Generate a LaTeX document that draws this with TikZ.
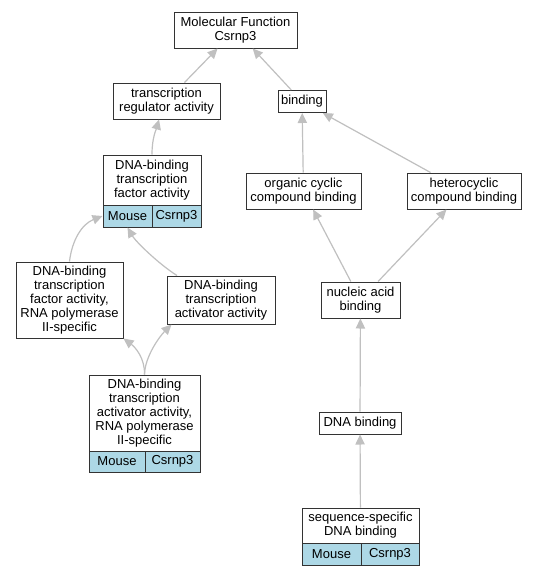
\documentclass[tikz,border=0pt]{standalone}
\usepackage{fontspec}
\setmainfont{Liberation Sans}
\usetikzlibrary{arrows.meta}

\definecolor{lightblue}{HTML}{ADD8E6}
\definecolor{edgegray}{HTML}{C0C0C0}
\definecolor{boxline}{HTML}{333333}

\tikzset{every picture/.style={line width=0.75pt}}
\tikzset{
	term/.style={draw=boxline, fill=white, line width=0.75pt, inner sep=0pt, align=center, font=\fontsize{9.75}{10.5}\selectfont},
	cell/.style={term, fill=lightblue},
	isa/.style={draw=edgegray, line width=0.9pt, -{Triangle[length=7.5pt,width=7pt]}},
}

\begin{document}
\begin{tikzpicture}[x=0.75pt,y=0.75pt,yscale=-1,xscale=1]
	%set diagram size 537 x 576
	\fill [white] (0,0) rectangle (537,576);
	\useasboundingbox (0,0) rectangle (537,576);
	
	% Term Node
	\node [term, minimum width=92.25pt, minimum height=27pt] (mf) at (235.5,30) {Molecular Function\\Csrnp3};
	% Term Node
	\node [term, minimum width=80.25pt, minimum height=27pt] (tra) at (166.5,101) {transcription\\regulator activity};
	% Term Node
	\node [term, minimum width=36pt, minimum height=16.5pt] (bind) at (302,101.5) {binding};
	% Term Node
	\node [term, minimum width=73.5pt, minimum height=37.5pt] (dbtfa) at (152,180) {DNA-binding\\transcription\\factor activity};
	\node [cell, minimum width=36.75pt, minimum height=16.5pt] (dbtfam) at (127.5,216) {Mouse};
	\node [cell, minimum width=36.75pt, minimum height=16.5pt] (dbtfag) at (176.5,216) {Csrnp3};
	% Term Node
	\node [term, minimum width=86.25pt, minimum height=27pt] (occb) at (303.5,191) {organic cyclic\\compound binding};
	% Term Node
	\node [term, minimum width=85.5pt, minimum height=27pt] (hcb) at (464,191) {heterocyclic\\compound binding};
	% Term Node
	\node [term, minimum width=59.25pt, minimum height=27pt] (nab) at (360.5,300) {nucleic acid\\binding};
	% Term Node
	\node [term, minimum width=80.25pt, minimum height=57pt] (dbtfa2) at (69.5,300) {DNA-binding\\transcription\\factor activity,\\RNA polymerase\\II-specific};
	% Term Node
	\node [term, minimum width=81pt, minimum height=36pt] (dbtaa) at (221,300) {DNA-binding\\transcription\\activator activity};
	% Term Node
	\node [term, minimum width=83.25pt, minimum height=57pt] (dbtaa2) at (144.5,413) {DNA-binding\\transcription\\activator activity,\\RNA polymerase\\II-specific};
	\node [cell, minimum width=42pt, minimum height=15.75pt] (dbtaa2m) at (117,461.5) {Mouse};
	\node [cell, minimum width=41.25pt, minimum height=15.75pt] (dbtaa2g) at (172.5,461.5) {Csrnp3};
	% Term Node
	\node [term, minimum width=61.5pt, minimum height=16.5pt] (dnab) at (360,423) {DNA binding};
	% Term Node
	\node [term, minimum width=87.75pt, minimum height=26.25pt] (ssdb) at (360.5,525.5) {sequence-specific\\DNA binding};
	\node [cell, minimum width=44.25pt, minimum height=16.5pt] (ssdbm) at (331.5,554) {Mouse};
	\node [cell, minimum width=43.5pt, minimum height=16.5pt] (ssdbg) at (390,554) {Csrnp3};
	
	%Straight Lines
	\draw [isa] (tra) -- (mf);
	\draw [isa] (bind) -- (mf);
	\draw [isa] (occb) -- (bind);
	\draw [isa] (hcb) -- (bind);
	\draw [isa] (nab) -- (occb);
	\draw [isa] (nab) -- (hcb);
	\draw [isa] (dnab) -- (nab);
	\draw [isa] (ssdb) -- (dnab);
	%Curve Lines
	\draw [isa] (dbtfa.north) .. controls (152,138) and (156,130) .. ([xshift=-5.6pt]tra.south);
	\draw [isa] (dbtfa2.north) .. controls (72,240) and (82,224) .. (dbtfam.west);
	\draw [isa] ([xshift=-33pt]dbtaa.north) .. controls (160,265) and (136,242) .. (dbtfam.south);
	\draw [isa] (dbtaa2.north) .. controls (145,358) and (135,347) .. (dbtfa2.south east);
	\draw [isa] (dbtaa2.north) .. controls (145,356) and (160,336) .. ([xshift=3.75pt]dbtaa.south west);
	
\end{tikzpicture}
\end{document}
